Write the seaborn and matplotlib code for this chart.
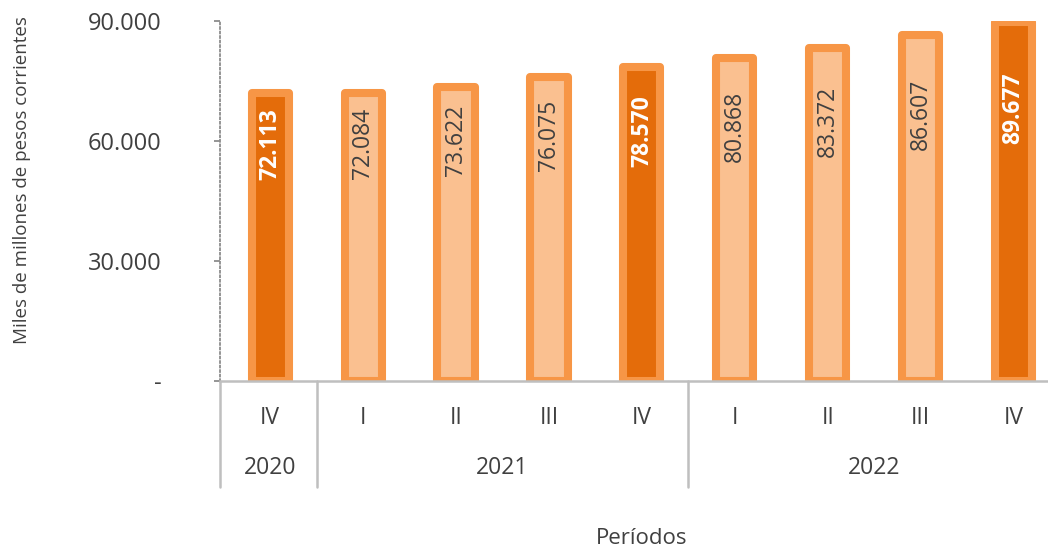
import matplotlib.pyplot as plt
import matplotlib.transforms as mtransforms
import pandas as pd
import seaborn as sns

# data
years = ["2020", "2021", "2021", "2021", "2021", "2022", "2022", "2022", "2022"]
quarters = ["IV", "I", "II", "III", "IV", "I", "II", "III", "IV"]
values = [72113, 72084, 73622, 76075, 78570, 80868, 83372, 86607, 89677]
y_ticks = [0, 30000, 60000, 90000]
y_tick_labels = ["-", "30.000", "60.000", "90.000"]

EDGE = "#F79646"
DARK = "#E46C0A"
LIGHT = "#FAC090"
TEXT = "#404040"
GRID = "#BFBFBF"


def fmt(v):
    return f"{v:,}".replace(",", ".")


sns.set_theme(style="white")
plt.rcParams["font.family"] = ["Open Sans", "DejaVu Sans"]

df = pd.DataFrame({"year": years, "quarter": quarters, "value": values})
df["periodo"] = df["year"] + "-" + df["quarter"]
df["dark"] = df["quarter"] == "IV"
palette = {p: (DARK if d else LIGHT) for p, d in zip(df["periodo"], df["dark"])}

fig = plt.figure(figsize=(10.48, 5.48), dpi=100)
W, H = 1048, 548
ax = fig.add_axes([220 / W, 1 - 381 / H, (W - 220) / W, 360 / H])

sns.barplot(data=df, x="periodo", y="value", hue="periodo", palette=palette,
            legend=False, width=0.4, saturation=1, ax=ax)
for patch in ax.patches:
    patch.set_edgecolor(EDGE)
    patch.set_linewidth(5.8)
    patch.set_joinstyle("round")

ax.set_xlim(-0.54, 8.37)
ax.set_ylim(0, 90000)

# value labels inside the bars
for i, row in df.iterrows():
    ax.text(i, (row["value"] + 46500) / 2, fmt(row["value"]), rotation=90,
            ha="center", va="center", fontsize=16.5,
            color="white" if row["dark"] else TEXT,
            fontweight="bold" if row["dark"] else "normal")

# y axis: dotted spine
for s in ["top", "right"]:
    ax.spines[s].set_visible(False)
ax.spines["left"].set_linestyle((0, (1, 1.5)))
ax.spines["left"].set_color("#8C8C8C")
ax.spines["left"].set_linewidth(1.3)
ax.spines["bottom"].set_color(GRID)
ax.spines["bottom"].set_linewidth(1.8)
ax.set_yticks(y_ticks)
ax.set_yticklabels(y_tick_labels, fontsize=17, color=TEXT)
ax.tick_params(axis="y", left=True, length=4, width=1.3, color="#8C8C8C", pad=38)
ax.set_xticks([])
ax.set_xlabel("")
ax.set_ylabel("")

# category axis: quarters, years and separators
trans = mtransforms.blended_transform_factory(ax.transData, ax.transAxes)
for i, q in enumerate(quarters):
    ax.text(i, -37 / 360, q, ha="center", va="center", fontsize=16.5,
            color=TEXT, transform=trans, clip_on=False)

groups = {}
for i, y in enumerate(years):
    groups.setdefault(y, []).append(i)
for y, idx in groups.items():
    ax.text((idx[0] + idx[-1]) / 2, -87 / 360, y, ha="center", va="center",
            fontsize=16.5, color=TEXT, transform=trans, clip_on=False)

for xs in [-0.54, 0.5, 4.5]:
    ax.plot([xs, xs], [0, -106 / 360], color=GRID, lw=1.8,
            transform=trans, clip_on=False)

fig.text(22 / W, 1 - 180 / H, "Miles de millones de pesos corrientes",
         rotation=90, ha="center", va="center", fontsize=13.5, color=TEXT)
fig.text(642 / W, 1 - 538 / H, "Períodos", ha="center", va="center",
         fontsize=16, color=TEXT)

fig.savefig("out.png", dpi=100)
